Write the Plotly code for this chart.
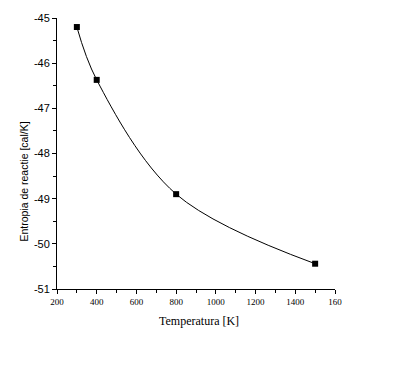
import plotly.graph_objects as go

temperature = [300, 400, 800, 1500]
entropy = [-45.2, -46.37, -48.9, -50.44]

x_tickvals = [200, 400, 600, 800, 1000, 1200, 1400, 1600]
x_ticktext = ["200", "400", "600", "800", "1000", "1200", "1400", "160"]
y_tickvals = [-51, -50, -49, -48, -47, -46, -45]
y_ticktext = ["-51", "-50", "-49", "-48", "-47", "-46", "-45"]

fig = go.Figure()
fig.add_trace(go.Scatter(
    x=temperature, y=entropy, mode="lines",
    line=dict(color="black", width=1, shape="spline", smoothing=1.0),
    showlegend=False, hoverinfo="skip"))
fig.add_trace(go.Scatter(
    x=temperature, y=entropy, mode="markers",
    marker=dict(symbol="square", size=6, color="black"),
    showlegend=False))

fig.update_layout(
    width=406, height=381,
    margin=dict(l=57, r=71, t=16, b=92),
    paper_bgcolor="white", plot_bgcolor="white",
    xaxis=dict(range=[200, 1600], showgrid=False, zeroline=False,
               showline=True, linecolor="black", linewidth=1,
               ticks="outside", ticklen=4, tickcolor="black",
               tickvals=x_tickvals, ticktext=x_ticktext,
               tickfont=dict(family="Liberation Serif", size=9, color="black"),
               minor=dict(ticks="outside", dtick=100, tick0=200, ticklen=3, tickcolor="black")),
    yaxis=dict(range=[-51, -45], showgrid=False, zeroline=False,
               showline=True, linecolor="black", linewidth=1,
               ticks="outside", ticklen=4, tickcolor="black",
               tickvals=y_tickvals, ticktext=y_ticktext,
               tickfont=dict(family="Liberation Sans", size=11, color="black"),
               minor=dict(ticks="outside", dtick=0.5, tick0=-51, ticklen=3, tickcolor="black")),
    annotations=[
        dict(text="Temperatura [K]", xref="paper", yref="paper", x=0.51, y=-0.117,
             showarrow=False, xanchor="center", yanchor="middle",
             font=dict(family="Liberation Serif", size=12, color="black")),
        dict(text="Entropia de reactie [cal/K]", xref="paper", yref="paper", x=-0.119, y=0.396,
             showarrow=False, xanchor="center", yanchor="middle", textangle=-90,
             font=dict(family="Liberation Sans", size=10.5, color="black")),
    ],
)

fig.write_html("out.html", config={"displayModeBar": False},
               post_script="document.body.style.margin='0';")
